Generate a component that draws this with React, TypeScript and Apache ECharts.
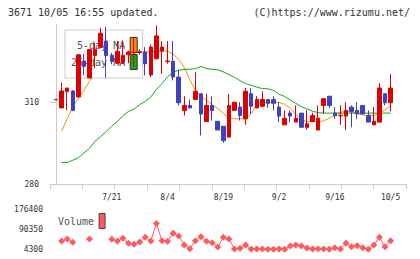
import React, { useEffect, useRef } from "react";
import * as echarts from "echarts";

const dates = [
  "7/6", "7/7", "7/8", "7/9", "7/10", "7/13", "7/14", "7/15", "7/16", "7/17",
  "7/21", "7/22", "7/23", "7/24", "7/27", "7/28", "7/29", "7/30", "7/31", "8/3",
  "8/4", "8/5", "8/6", "8/7", "8/10", "8/12", "8/13", "8/14", "8/17", "8/18",
  "8/19", "8/20", "8/21", "8/24", "8/25", "8/26", "8/27", "8/28", "8/31", "9/1",
  "9/2", "9/3", "9/4", "9/7", "9/8", "9/9", "9/10", "9/11", "9/14", "9/15",
  "9/16", "9/17", "9/18", "9/24", "9/25", "9/28", "9/29", "9/30", "10/1", "10/2",
  "10/5",
];

const opens = [
  311.0, 308.0, 314.0, 314.2, 312.0, 325.2, 319.0, 327.2, 330.2, 332.5,
  327.3, 324.4, 324.6, 327.5, 328.1, 328.3, 328.5, 320.1, 326.0, 328.8,
  325.0, 325.1, 319.3, 307.1, 308.9, 311.1, 313.2, 303.0, 308.9, 303.1,
  301.3, 297.3, 307.1, 308.3, 304.0, 313.2, 308.0, 308.6, 311.1, 311.1,
  308.3, 301.8, 306.1, 302.8, 306.1, 300.9, 303.0, 299.9, 308.9, 312.3,
  306.1, 305.1, 305.0, 308.3, 307.1, 308.9, 305.2, 301.8, 302.8, 313.2,
  309.9,
];
const closes = [
  311.1, 314.2, 315.3, 307.1, 327.5, 323.2, 329.4, 329.5, 335.4, 327.2,
  325.0, 328.8, 327.3, 328.5, 328.4, 328.6, 324.2, 330.3, 334.4, 330.3,
  325.2, 319.3, 309.9, 308.9, 308.0, 314.1, 305.8, 308.9, 307.1, 299.9,
  296.0, 308.9, 310.1, 305.2, 314.1, 308.6, 311.1, 311.1, 309.7, 309.7,
  305.0, 304.2, 305.0, 304.2, 300.9, 302.2, 305.2, 304.2, 311.4, 308.9,
  305.1, 305.3, 307.1, 306.7, 305.8, 305.8, 302.8, 303.1, 315.3, 309.9,
  315.3,
];
const lows = [
  311.0, 308.0, 307.2, 306.8, 311.9, 320.0, 319.0, 322.5, 330.2, 319.1,
  324.0, 324.0, 324.2, 324.4, 323.0, 327.6, 319.9, 319.3, 326.0, 320.5,
  324.2, 318.1, 308.9, 305.2, 307.9, 311.1, 297.9, 303.0, 303.4, 299.9,
  295.2, 297.3, 307.1, 303.4, 301.8, 305.8, 308.0, 308.6, 308.0, 307.1,
  302.8, 301.8, 302.8, 302.8, 300.9, 300.1, 303.0, 299.9, 305.8, 307.9,
  304.0, 301.8, 299.9, 300.9, 304.0, 305.8, 302.8, 301.8, 302.8, 308.9,
  306.7,
];
const highs = [
  311.1, 317.2, 315.3, 314.6, 327.5, 327.8, 329.4, 331.8, 337.4, 337.8,
  328.2, 332.5, 332.8, 329.0, 333.5, 329.4, 330.3, 331.2, 338.3, 332.5,
  332.5, 332.5, 322.0, 312.3, 311.1, 321.1, 313.2, 313.2, 312.3, 303.1,
  301.3, 313.2, 310.1, 310.1, 315.3, 315.3, 312.3, 314.1, 311.1, 312.3,
  310.1, 307.1, 307.1, 308.9, 306.1, 307.1, 306.2, 308.9, 311.4, 312.3,
  308.3, 308.9, 310.1, 308.9, 310.1, 308.9, 307.1, 308.3, 317.1, 313.2,
  320.5,
];

const ma5 = [
  null, 299.5, 304.0, 308.5, 311.5, 314.5, 317.8, 320.5, 323.5, 326.0,
  327.5, 328.3, 328.8, 329.0, 328.8, 328.6, 328.6, 328.6, 328.7, 329.0,
  328.8, 327.7, 325.8, 322.8, 318.4, 314.3, 312.2, 310.7, 309.2, 307.8,
  306.0, 304.2, 304.0, 304.0, 304.0, 305.8, 309.6, 309.8, 309.9, 310.1,
  310.0, 309.3, 307.9, 305.6, 303.8, 303.0, 303.0, 303.0, 303.2, 304.3,
  305.4, 306.4, 306.8, 306.5, 306.0, 305.4, 305.3, 305.2, 306.0, 307.3,
  308.8,
];
const ma25 = [
  null, 288.0, 288.0, 288.8, 289.7, 291.5, 293.2, 295.8, 297.5, 299.3,
  301.4, 303.0, 305.2, 306.7, 307.6, 309.2, 310.4, 312.0, 314.8, 316.9,
  319.4, 321.0, 321.8, 322.1, 322.2, 322.4, 323.2, 322.4, 322.2, 322.0,
  321.2, 320.2, 319.2, 318.0, 316.9, 316.3, 315.6, 315.1, 315.0, 314.4,
  313.0, 312.2, 310.9, 309.7, 308.5, 307.6, 306.8, 306.3, 306.1, 306.1,
  306.1, 306.1, 306.1, 306.1, 306.1, 306.1, 306.1, 306.1, 306.1, 306.1,
  306.1,
];
const volumes = [
  null, 39700, 48200, 34100, null, null, 48200, null, null, null,
  46900, 39700, 51200, 29900, 25600, 35400, 55400, 39700, 115000, 41000,
  38400, 72500, 61000, 22600, 6900, 41000, 58000, 38400, 32400, 14100,
  55400, 48200, 5600, 8600, 22600, 5600, 5600, 5600, 4300, 4300,
  5600, 4300, 18400, 22600, 18400, 9800, 5600, 5600, 5600, 4300,
  11100, 5600, 29900, 15400, 19600, 11100, 4300, 22600, 55400, 15400,
  41000,
];

const priceTicks = [280, 310];
const volumeTicks = [4300, 90350, 176400];
const dateLabelIndex = [10, 20, 30, 40, 50, 60];

const mono = "'DejaVu Sans Mono', monospace";

export default function App() {
  const ref = useRef<HTMLDivElement>(null);
  useEffect(() => {
    const chart = echarts.init(ref.current!, null, { renderer: "svg" });
    const candle = dates.map((_, i) => [i, opens[i], closes[i], lows[i], highs[i]]);
    const xy = (arr: (number | null)[]) => arr.map((v, i) => [i, v == null ? "-" : v]);
    chart.setOption({
      animation: false,
      backgroundColor: "#fff",
      grid: [
        { left: 50, top: 25, width: 356, height: 159.3 },
        { left: 50, top: 209, width: 356, height: 40.3 },
      ],
      xAxis: [
        {
          type: "value", gridIndex: 0, min: -1.08, max: 62.76,
          axisLine: { show: false }, axisTick: { show: false }, splitLine: { show: false },
          axisLabel: {
            customValues: dateLabelIndex,
            formatter: (v: number) => dates[Math.round(v)] ?? "",
            fontFamily: mono, fontSize: 8, color: "#333", margin: 9,
          },
        },
        {
          type: "value", gridIndex: 0, min: 0, max: 11, interval: 1, position: "bottom",
          axisLine: { show: true, lineStyle: { color: "#ccc" } },
          axisTick: { show: true, length: 5, lineStyle: { color: "#ccc" } },
          axisLabel: { show: false }, splitLine: { show: false },
        },
        { type: "value", gridIndex: 1, min: -1.08, max: 62.76, show: false },
      ],
      yAxis: [
        {
          type: "value", gridIndex: 0, min: 280, max: 338.4,
          axisLine: { show: true, lineStyle: { color: "#ccc" } },
          axisTick: { show: true, length: 6, customValues: priceTicks, lineStyle: { color: "#ccc" } },
          axisLabel: { customValues: priceTicks, formatter: (v: number) => String(v), fontFamily: mono, fontSize: 8, color: "#333", margin: 11 },
          splitLine: { show: false },
        },
        {
          type: "value", gridIndex: 1, min: 4300, max: 176400,
          axisLine: { show: false }, axisTick: { show: false }, splitLine: { show: false },
          axisLabel: { customValues: volumeTicks, formatter: (v: number) => String(v), fontFamily: mono, fontSize: 8, color: "#333", margin: 7 },
        },
      ],
      legend: [
        {
          data: ["5-day MA", "25-day MA"], left: 65, top: 30, orient: "vertical", align: "right",
          itemWidth: 7, itemHeight: 15, itemGap: 1, padding: [7, 5, 8, 6],
          backgroundColor: "#fff", borderColor: "#ccc", borderWidth: 1, icon: "rect",
          textStyle: { fontFamily: mono, fontSize: 10, color: "#555" },
          itemStyle: { borderColor: "#333", borderWidth: 1 },
          selectedMode: false, z: 3,
        },
        {
          data: ["Volume"], left: 58, top: 213, orient: "vertical", align: "right",
          itemWidth: 6, itemHeight: 15, padding: 0, icon: "rect",
          textStyle: { fontFamily: mono, fontSize: 10, color: "#555" },
          itemStyle: { borderColor: "#444", borderWidth: 1 },
          selectedMode: false,
        },
      ],
      graphic: [
        { type: "text", left: 8, top: 7, style: { text: "3671 10/05 16:55 updated.", font: `10px ${mono}`, fill: "#333" } },
        { type: "text", right: 10, top: 7, style: { text: "(C)https://www.rizumu.net/", font: `10px ${mono}`, fill: "#333" } },
      ],
      series: [
        {
          type: "line", name: "5-day MA", xAxisIndex: 0, yAxisIndex: 0, data: xy(ma5),
          showSymbol: false, symbol: "none", color: "#ff8c00",
          lineStyle: { width: 1, color: "#ff8c00" }, itemStyle: { color: "#ff8c00" }, z: 2,
        },
        {
          type: "line", name: "25-day MA", xAxisIndex: 0, yAxisIndex: 0, data: xy(ma25),
          showSymbol: false, symbol: "none", color: "#11aa11",
          lineStyle: { width: 1, color: "#11aa11" }, itemStyle: { color: "#11aa11" }, z: 2,
        },
        {
          type: "candlestick", name: "price", xAxisIndex: 0, yAxisIndex: 0, data: candle,
          encode: { x: 0, y: [1, 2, 3, 4] }, barWidth: 4,
          itemStyle: { color: "#dd0000", color0: "#4040c0", borderColor: "#dd0000", borderColor0: "#4040c0", borderWidth: 1 },
          z: 5,
        },
        {
          type: "line", name: "Volume", xAxisIndex: 2, yAxisIndex: 1, data: xy(volumes),
          symbol: "diamond", symbolSize: 7, showSymbol: true, connectNulls: false, color: "#ff5a5f",
          lineStyle: { width: 1, color: "#ff5a5f" }, itemStyle: { color: "#ff5a5f" },
        },
      ],
    });
    return () => chart.dispose();
  }, []);
  return <div ref={ref} style={{ position: "fixed", left: 0, top: 0, width: 420, height: 259 }} />;
}
